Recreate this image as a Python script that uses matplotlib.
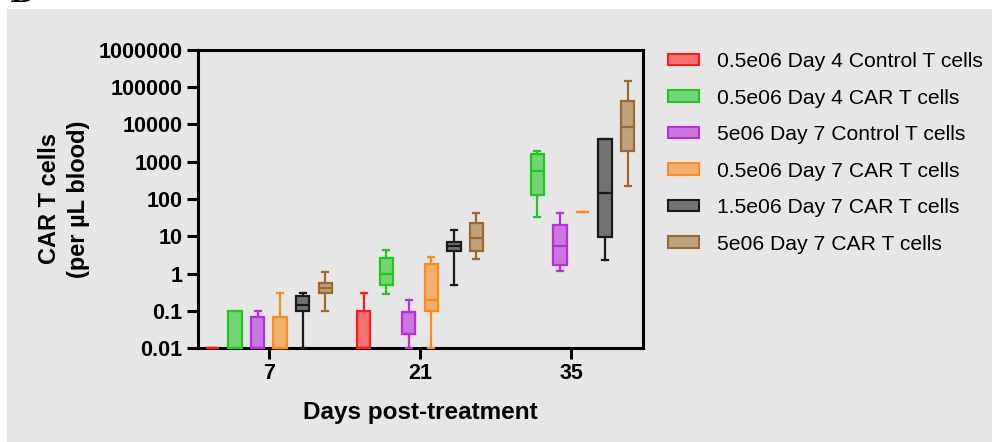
import matplotlib
matplotlib.use("Agg")
import matplotlib.pyplot as plt
from matplotlib.patches import Patch, Rectangle

plt.rcParams['font.family'] = ['Liberation Sans', 'DejaVu Sans']

# ---- data (five-number summaries: whislo, q1, median, q3, whishi) ----
days = [7, 21, 35]
day_labels = ['7', '21', '35']
series_names = ['0.5e06 Day 4 Control T cells', '0.5e06 Day 4 CAR T cells',
                '5e06 Day 7 Control T cells', '0.5e06 Day 7 CAR T cells',
                '1.5e06 Day 7 CAR T cells', '5e06 Day 7 CAR T cells']
ctrl_d4_05 = [[0.01, 0.01, 0.01, 0.01, 0.01], [0.01, 0.01, 0.01, 0.1, 0.3], None]
car_d4_05 = [[0.01, 0.01, 0.01, 0.1, 0.1], [0.29, 0.5, 0.97, 2.6, 4.4], [33, 126, 560, 1600, 1970]]
ctrl_d7_5 = [[0.01, 0.01, 0.01, 0.07, 0.1], [0.01, 0.024, 0.092, 0.092, 0.2], [1.15, 1.73, 5.4, 20.6, 41.5]]
car_d7_05 = [[0.01, 0.01, 0.01, 0.07, 0.3], [0.01, 0.1, 0.2, 1.77, 2.7], [45, 45, 45, 45, 45]]
car_d7_15 = [[0.01, 0.1, 0.14, 0.25, 0.3], [0.48, 4.1, 5.5, 6.8, 14.5], [2.3, 9.4, 149, 3970, 4000]]
car_d7_5 = [[0.096, 0.3, 0.41, 0.56, 1.08], [2.5, 4.0, 9.0, 22.3, 41.5], [221, 1890, 8340, 42500, 144000]]
all_series = [ctrl_d4_05, car_d4_05, ctrl_d7_5, car_d7_05, car_d7_15, car_d7_5]

ytick_vals = [0.01, 0.1, 1, 10, 100, 1000, 10000, 100000, 1000000]
ytick_labels = ['0.01', '0.1', '1', '10', '100', '1000', '10000', '100000', '1000000']

# ---- style ----
edge_colors = ['#ff1a1a', '#1ec81e', '#b82ee0', '#ff8c1a', '#1a1a1a', '#9a6a30']
fill_colors = ['#f07272', '#74d474', '#cb77e0', '#f2b070', '#727272', '#bca37f']
bg = '#e6e6e6'

W, H = 992, 442
fig = plt.figure(figsize=(W / 100, H / 100), dpi=100, facecolor='white')
fig.patches.append(Rectangle((7 / W, 0), 1, 1 - 9 / H, transform=fig.transFigure,
                             facecolor=bg, edgecolor='none', zorder=-10))
fig.text(10 / W, 1 - 2 / H, 'B', fontsize=20, fontweight='bold', family='DejaVu Serif',
         va='baseline', ha='left')

ax = fig.add_axes([198 / W, 1 - 348 / H, (643 - 198) / W, (348 - 50) / H])
ax.set_facecolor(bg)

offset = 2.09
width = 1.23
lw = 1.6
for i, ser in enumerate(all_series):
    stats = []
    pos = []
    for j, s in enumerate(ser):
        if s is None:
            continue
        stats.append(dict(whislo=s[0], q1=s[1], med=s[2], q3=s[3], whishi=s[4], fliers=[]))
        pos.append(days[j] + (i - 2.5) * offset)
    ec = edge_colors[i]
    res = ax.bxp(stats, positions=pos, widths=width, capwidths=width * 0.45, patch_artist=True,
                 showfliers=False, manage_ticks=False,
                 boxprops=dict(facecolor=fill_colors[i], edgecolor=ec, linewidth=lw),
                 medianprops=dict(color=ec, linewidth=lw),
                 whiskerprops=dict(color=ec, linewidth=lw),
                 capprops=dict(color=ec, linewidth=lw))
    for key in ('boxes', 'medians', 'whiskers', 'caps'):
        for art in res[key]:
            art.set_clip_on(False)
            art.set_zorder(3)

ax.set_yscale('log')
ax.set_ylim(0.01, 1000000)
ax.set_xlim(0.44, 41.65)
ax.yaxis.set_major_locator(matplotlib.ticker.FixedLocator(ytick_vals))
ax.yaxis.set_major_formatter(matplotlib.ticker.FixedFormatter(ytick_labels))
ax.yaxis.set_minor_locator(matplotlib.ticker.NullLocator())
ax.set_xticks(days)
ax.set_xticklabels(day_labels)

for sp in ax.spines.values():
    sp.set_linewidth(2.2)
    sp.set_zorder(2.5)
ax.tick_params(axis='both', length=8, width=2.2, labelsize=15.5, pad=3)
for lab in ax.get_xticklabels() + ax.get_yticklabels():
    lab.set_fontweight('bold')

ax.set_xlabel('Days post-treatment', fontsize=17.5, fontweight='bold', labelpad=12)
ax.set_ylabel('CAR T cells\n(per µL blood)', fontsize=17, fontweight='bold', labelpad=6,
              linespacing=1.35)

handles = [Patch(facecolor=fill_colors[i], edgecolor=edge_colors[i], linewidth=1.5)
           for i in range(6)]
fig.legend(handles, series_names, loc='upper left', bbox_to_anchor=(668 / W, 1 - 52 / H),
           frameon=False, fontsize=15.2, handlelength=1.46, handleheight=0.47,
           handletextpad=0.85, labelspacing=0.83, borderpad=0, borderaxespad=0)

fig.savefig('out.png', dpi=100, facecolor='white')
